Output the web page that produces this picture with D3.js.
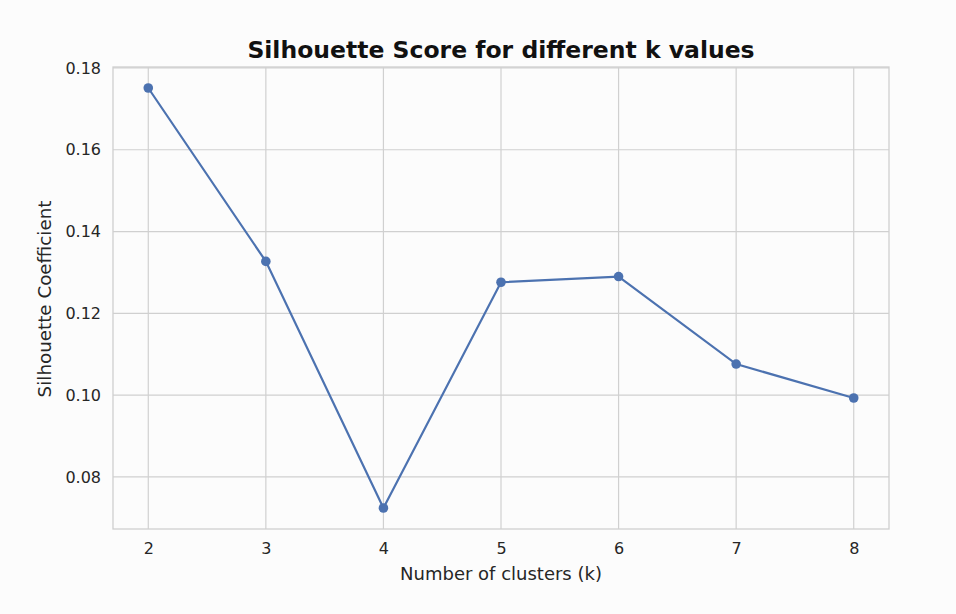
<!DOCTYPE html>
<html>
<head>
<meta charset="utf-8">
<script src="https://cdn.jsdelivr.net/npm/d3@7"></script>
<style>
  body { margin: 0; background: #fcfcfc; }
  svg { font-family: "DejaVu Sans", sans-serif; }
  .grid line { stroke: #d0d0d0; stroke-width: 1.2; }
  .tick text { fill: #262626; }
</style>
</head>
<body>
<svg class="chart" width="956" height="614"></svg>
<script>
// k values and silhouette scores
const kValues = [2, 3, 4, 5, 6, 7, 8]
const scores = [0.1751, 0.1327, 0.0724, 0.1276, 0.1290, 0.1076, 0.0993]
const yTicks = [0.08, 0.10, 0.12, 0.14, 0.16, 0.18]

const margin = { top: 67, right: 67, bottom: 85, left: 113 }
const width = 956 - margin.left - margin.right
const height = 614 - margin.top - margin.bottom

const svg = d3.select("svg.chart")
const g = svg.append("g").attr("transform", `translate(${margin.left},${margin.top})`)

// matplotlib-style 5% padding on both axes
const xPad = (d3.max(kValues) - d3.min(kValues)) * 0.05
const x = d3.scaleLinear()
  .domain([d3.min(kValues) - xPad, d3.max(kValues) + xPad])
  .range([0, width])
const yExt = d3.extent(scores)
const yPad = (yExt[1] - yExt[0]) * 0.05
const y = d3.scaleLinear()
  .domain([yExt[0] - yPad, yExt[1] + yPad])
  .range([height, 0])

// gridlines
const grid = g.append("g").attr("class", "grid")
grid.selectAll("line.v").data(kValues).enter().append("line")
  .attr("x1", d => x(d)).attr("x2", d => x(d))
  .attr("y1", 0).attr("y2", height)
grid.selectAll("line.h").data(yTicks).enter().append("line")
  .attr("x1", 0).attr("x2", width)
  .attr("y1", d => y(d)).attr("y2", d => y(d))

// frame
g.append("rect")
  .attr("width", width).attr("height", height)
  .attr("fill", "none").attr("stroke", "#cfcfcf").attr("stroke-width", 1.3)

// axes (labels only, no tick marks); d3 sets its own font attrs on the group, override them
g.append("g")
  .attr("transform", `translate(0,${height})`)
  .call(d3.axisBottom(x).tickValues(kValues).tickSize(0).tickPadding(14).tickFormat(d3.format("d")))
  .attr("font-family", "DejaVu Sans").attr("font-size", 16)
  .call(a => a.select(".domain").remove())
g.append("g")
  .call(d3.axisLeft(y).tickValues(yTicks).tickSize(0).tickPadding(12).tickFormat(d3.format(".2f")))
  .attr("font-family", "DejaVu Sans").attr("font-size", 16)
  .call(a => a.select(".domain").remove())

// line + markers
const line = d3.line().x((d, i) => x(kValues[i])).y(d => y(d))
g.append("path")
  .datum(scores)
  .attr("fill", "none")
  .attr("stroke", "#4c72b0")
  .attr("stroke-width", 2.2)
  .attr("d", line)
g.selectAll("circle").data(scores).enter().append("circle")
  .attr("cx", (d, i) => x(kValues[i]))
  .attr("cy", d => y(d))
  .attr("r", 4.8)
  .attr("fill", "#4c72b0")

// title and axis labels
svg.append("text")
  .attr("x", margin.left + width / 2).attr("y", 58)
  .attr("text-anchor", "middle")
  .attr("font-size", 23.5).attr("font-weight", "bold").attr("fill", "#111")
  .text("Silhouette Score for different k values")
svg.append("text")
  .attr("x", margin.left + width / 2).attr("y", 580)
  .attr("text-anchor", "middle")
  .attr("font-size", 18).attr("fill", "#262626")
  .text("Number of clusters (k)")
svg.append("text")
  .attr("transform", `translate(51,${margin.top + height / 2 + 1}) rotate(-90)`)
  .attr("text-anchor", "middle")
  .attr("font-size", 18.3).attr("fill", "#262626")
  .text("Silhouette Coefficient")
</script>
</body>
</html>
